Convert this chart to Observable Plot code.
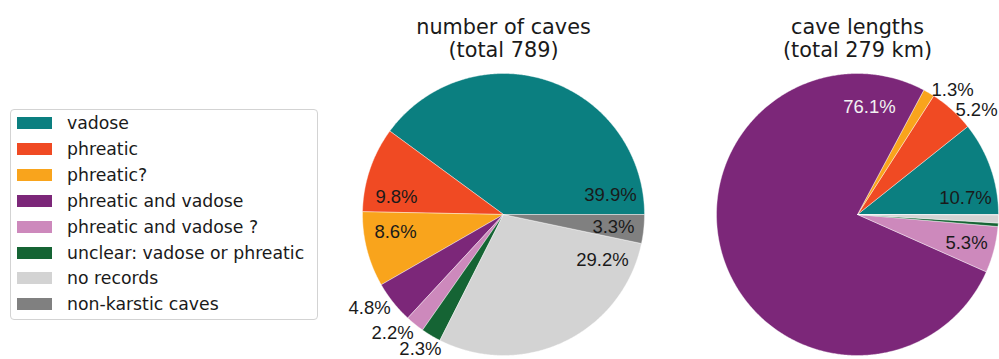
<!DOCTYPE html>
<html>
<head>
<meta charset="utf-8">
<script src="https://cdn.jsdelivr.net/npm/d3@7"></script>
<script src="https://cdn.jsdelivr.net/npm/@observablehq/plot@0.6"></script>
<style>
  html, body { margin: 0; padding: 0; background: #fff; }
  #wrap { position: relative; width: 999px; height: 359px; overflow: hidden; }
  #legend {
    position: absolute; left: 10px; top: 109px; width: 306px; height: 209px;
    border: 1px solid #d3d3d3; border-radius: 4px; background: #fff;
    font-family: "DejaVu Sans", sans-serif; font-size: 17.3px; color: #1a1a1a;
    box-sizing: content-box;
  }
  .row { position: absolute; left: 0; height: 26px; display: flex; align-items: center; }
  .sw { width: 35px; height: 12px; margin-left: 6px; margin-right: 15px; }
  #chart { position: absolute; left: 0; top: 0; }
</style>
</head>
<body>
<div id="wrap">
  <div id="chart"></div>
  <div id="legend"></div>
</div>
<script>
// ---- data ----
const categories = [
  "vadose", "phreatic", "phreatic?", "phreatic and vadose",
  "phreatic and vadose ?", "unclear: vadose or phreatic", "no records", "non-karstic caves"
];
const colors = ["#0b7f80", "#f04a23", "#f9a41c", "#7c2779", "#cd89bc", "#156434", "#d3d3d3", "#808080"];
const caveCounts = [315, 77, 68, 38, 17, 18, 230, 26];          // total 789
const caveLengthsKm = [29.9, 14.5, 3.6, 212.4, 14.8, 1.1, 2.6, 0.1]; // total 279 km
const pieTitles = ["number of caves\n(total 789)", "cave lengths\n(total 279 km)"];

// label anchors (in pie-radius units, relative to each pie centre), as placed in the original
const labelAnchors1 = [[0.759, 0.135], [-0.759, 0.121], [-0.766, -0.128], [-0.950, -0.667],
                       [-0.787, -0.844], [-0.589, -0.955], [0.702, -0.326], [0.780, -0.092]];
const labelAnchors2 = [[0.766, 0.113], [0.844, 0.738], [0.674, 0.879], [0.085, 0.759],
                       [0.773, -0.206], [0, 0], [0, 0], [0, 0]];

// ---- layout ----
const W = 999, H = 359, R = 141, CY = 214;
const centersPx = [503, 857];
const cxUnits = centersPx.map(c => (c - centersPx[0]) / R);

const series = [caveCounts, caveLengthsKm];
const anchors = [labelAnchors1, labelAnchors2];

const polys = [];
const labels = [];
series.forEach((vals, p) => {
  const total = d3.sum(vals);
  let acc = 0;
  vals.forEach((v, i) => {
    const a0 = acc / total * 2 * Math.PI;
    acc += v;
    const a1 = acc / total * 2 * Math.PI;
    const pct = v / total * 100;
    if (v > 0) {
      const id = p + "-" + i;
      const cx = cxUnits[p];
      polys.push({id, cat: categories[i], x: cx, y: 0});
      const n = Math.max(2, Math.ceil((a1 - a0) / (Math.PI / 360)));
      for (let k = 0; k <= n; k++) {
        const a = a0 + (a1 - a0) * k / n;
        polys.push({id, cat: categories[i], x: cx + Math.cos(a), y: Math.sin(a)});
      }
      polys.push({id, cat: categories[i], x: cx, y: 0});
    }
    if (pct >= 1) {
      const [dx, dy] = anchors[p][i];
      labels.push({x: cxUnits[p] + dx, y: dy, text: pct.toFixed(1) + "%", big: pct > 50});
    }
  });
});

const titles = pieTitles.map((t, p) => ({x: cxUnits[p], text: t}));

const chart = Plot.plot({
  width: W, height: H,
  marginTop: 0, marginBottom: 0, marginLeft: 0, marginRight: 0,
  x: {domain: [-centersPx[0] / R, (W - centersPx[0]) / R], axis: null},
  y: {domain: [-(H - CY) / R, CY / R], axis: null},
  color: {domain: categories, range: colors},
  style: {background: "white", overflow: "visible"},
  marks: [
    Plot.line(polys, {x: "x", y: "y", z: "id", fill: "cat", stroke: "white", strokeWidth: 0.4, curve: "linear"}),
    Plot.text(labels, {x: "x", y: "y", text: "text",
      fill: d => d.big ? "#f2f2f2" : "#1a1a1a",
      fontSize: 18.5, fontFamily: "Liberation Sans, Arial, sans-serif"}),
    Plot.text(titles, {x: "x", text: "text", frameAnchor: "top", dy: 17, lineAnchor: "top",
      lineHeight: 1.12, fontSize: 20.8, fontFamily: "DejaVu Sans, sans-serif", fill: "#1a1a1a"})
  ]
});
document.getElementById("chart").appendChild(chart);

// ---- legend ----
const legend = document.getElementById("legend");
categories.forEach((c, i) => {
  const row = document.createElement("div");
  row.className = "row";
  row.style.top = (i * 25.9) + "px";
  const sw = document.createElement("div");
  sw.className = "sw";
  sw.style.background = colors[i];
  const tx = document.createElement("span");
  tx.textContent = c;
  row.appendChild(sw);
  row.appendChild(tx);
  legend.appendChild(row);
});
</script>
</body>
</html>
